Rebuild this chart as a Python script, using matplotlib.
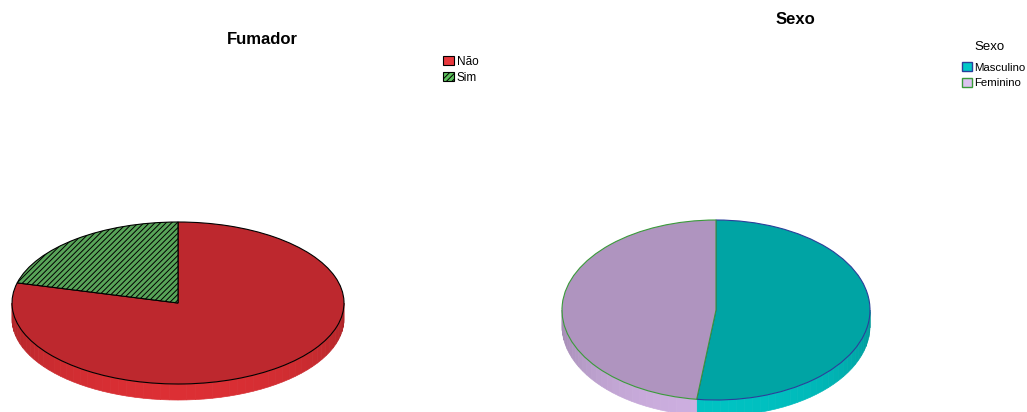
import matplotlib.pyplot as plt
import numpy as np
from matplotlib.colors import to_rgb
from matplotlib.patches import Patch

# Fumador
smoke_labels = ['Não', 'Sim']
smoke_values = [79, 21]
smoke_top = ['#BD282E', '#58A458']
smoke_side = ['#DC2F34', '#5FB05F']
smoke_legend = ['#E8383D', '#5CC05C']
smoke_edges = ['black', 'black']
smoke_hatch = ['', '//////']

# Sexo
sex_labels = ['Masculino', 'Feminino']
sex_values = [52, 48]
sex_top = ['#00A4A4', '#AF94BF']
sex_side = ['#00C2C2', '#CDAFE0']
sex_legend = ['#00C8C8', '#DCC3F0']
sex_edges = ['#2A3F9A', '#3A9A3A']
sex_hatch = ['', '']

W, H = 1027, 412
plt.rcParams['hatch.linewidth'] = 0.7
fig = plt.figure(figsize=(W / 100, H / 100), dpi=100)

narrow_fam = ['Liberation Sans Narrow', 'Liberation Sans']


def pie3d(values, top, side, edges, hatches, cx, cy, a, b, depth, pad=4):
    # axes sized in pixels so the unit circle becomes an a x b ellipse
    ax = fig.add_axes([(cx - a - pad) / W, (H - cy - b - depth - pad) / H,
                       (2 * a + 2 * pad) / W, (2 * b + depth + 2 * pad) / H])
    wedges, _ = ax.pie(values, colors=top, startangle=90, counterclock=False,
                       wedgeprops=dict(linewidth=0.8))
    for w, ec, h in zip(wedges, edges, hatches):
        w.set_edgecolor(ec)
        w.set_hatch(h)
        w.set_zorder(3)
    d = depth / b
    # front rim, shaded darker toward the ends
    for w, sc in zip(wedges, side):
        base = np.array(to_rgb(sc))
        for k in (-1, 0, 1):
            lo = max(w.theta1, -180 + 360 * k)
            hi = min(w.theta2, 360 * k)
            if hi <= lo:
                continue
            steps = np.append(np.arange(lo, hi, 3.0), hi)
            for t0, t1 in zip(steps[:-1], steps[1:]):
                f = 0.78 + 0.22 * (-np.sin(np.radians((t0 + t1) / 2)))
                c = np.clip(base * f, 0, 1)
                tt = np.radians(np.linspace(t0, t1, 4))
                xs = np.concatenate([np.cos(tt), np.cos(tt[::-1])])
                ys = np.concatenate([np.sin(tt), np.sin(tt[::-1]) - d])
                ax.fill(xs, ys, color=c, lw=0.5, zorder=1)
    ax.set_aspect('auto')
    ax.set_xlim(-(a + pad) / a, (a + pad) / a)
    ax.set_ylim(-(b + depth + pad) / b, (b + pad) / b)
    ax.axis('off')
    return ax


pie3d(smoke_values, smoke_top, smoke_side, smoke_edges, smoke_hatch,
      cx=178, cy=303, a=166, b=81, depth=16)
pie3d(sex_values, sex_top, sex_side, sex_edges, sex_hatch,
      cx=716, cy=310, a=154, b=90, depth=16)

fig.text(262 / W, 1 - 40 / H, 'Fumador', ha='center', va='center',
         fontsize=12, fontweight='bold', family='Liberation Sans')
fig.text(795 / W, 1 - 20 / H, 'Sexo', ha='center', va='center',
         fontsize=12, fontweight='bold', family='Liberation Sans')

h1 = [Patch(facecolor=fc, edgecolor=ec, hatch=h, linewidth=0.8)
      for fc, ec, h in zip(smoke_legend, smoke_edges, smoke_hatch)]
fig.legend(h1, smoke_labels, loc='upper left', bbox_to_anchor=(443 / W, 1 - 56 / H),
           frameon=False, borderpad=0, borderaxespad=0, handlelength=0.9,
           handleheight=0.8, handletextpad=0.25, labelspacing=0.3,
           prop={'family': narrow_fam, 'size': 8.5})

fig.text(989 / W, 1 - 47 / H, 'Sexo', ha='center', va='center',
         fontsize=9.5, family=narrow_fam)
h2 = [Patch(facecolor=fc, edgecolor=ec, linewidth=1.0)
      for fc, ec in zip(sex_legend, sex_edges)]
fig.legend(h2, sex_labels, loc='upper left',
           bbox_to_anchor=(962 / W, 1 - 62 / H), frameon=False, borderpad=0,
           borderaxespad=0, handlelength=0.9, handleheight=0.9, handletextpad=0.18,
           labelspacing=0.45, prop={'family': narrow_fam, 'size': 8.2})

fig.savefig('out.png', dpi=100)
